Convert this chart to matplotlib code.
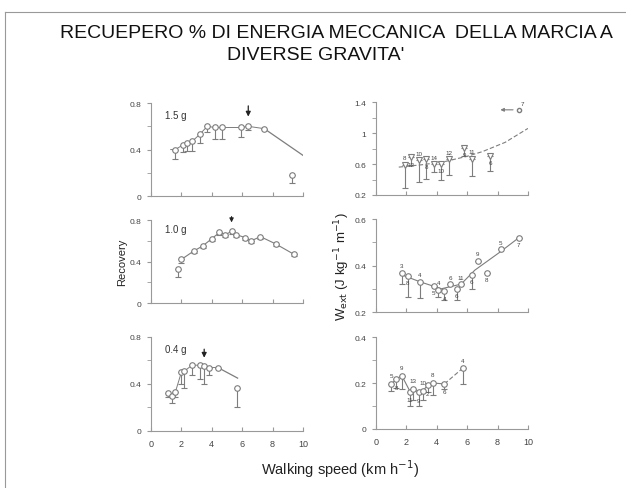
"""Recovery and external work of walking at different gravity levels."""

import numpy as np
import matplotlib.pyplot as plt
from matplotlib.lines import Line2D

plt.rcParams["font.family"] = ["Liberation Sans", "DejaVu Sans"]

TITLE_1 = "RECUEPERO % DI ENERGIA MECCANICA  DELLA MARCIA A"
TITLE_2 = "DIVERSE GRAVITA'"

# recovery, 1.5 g
rec15_x = [1.6, 2.1, 2.4, 2.7, 3.2, 3.7, 4.2, 4.7, 5.9, 6.4, 7.45]
rec15_y = [0.40, 0.44, 0.46, 0.47, 0.53, 0.60, 0.59, 0.59, 0.59, 0.60, 0.58]
rec15_err = [0.08, 0.06, 0.07, 0.08, 0.07, 0.05, 0.10, 0.10, 0.08, 0.03, 0.0]
rec15_fit_x = [7.45, 10.0]
rec15_fit_y = [0.58, 0.35]
rec15_out = (9.3, 0.18, 0.07)
rec15_opt = 6.4

# recovery, 1.0 g
rec10_x = [1.8, 2.0, 2.8, 3.4, 4.0, 4.5, 4.9, 5.3, 5.6, 6.2, 6.6, 7.2, 8.2, 9.4]
rec10_y = [0.33, 0.42, 0.50, 0.55, 0.62, 0.68, 0.66, 0.69, 0.66, 0.63, 0.60, 0.64, 0.57, 0.47]
rec10_err = [0.08, 0.03, 0.02, 0.02, 0.02, 0.02, 0.02, 0.02, 0.02, 0.02, 0.02, 0.02, 0.02, 0.02]
rec10_opt = 5.3

# recovery, 0.4 g
rec04_x = [1.1, 1.4, 1.6, 2.0, 2.2, 2.7, 3.2, 3.5, 3.8, 4.4]
rec04_y = [0.32, 0.30, 0.33, 0.50, 0.51, 0.56, 0.56, 0.55, 0.54, 0.54]
rec04_err = [0.03, 0.06, 0.04, 0.10, 0.14, 0.08, 0.12, 0.15, 0.06, 0.0]
rec04_fit_x = [4.4, 5.7]
rec04_fit_y = [0.54, 0.45]
rec04_out = (5.65, 0.37, 0.17)
rec04_opt = 3.5

# W_ext, 1.5 g
w15_x = [1.9, 2.3, 2.8, 3.3, 3.8, 4.3, 4.8, 5.8, 6.3, 7.5]
w15_y = [0.59, 0.69, 0.65, 0.66, 0.60, 0.60, 0.66, 0.81, 0.67, 0.71]
w15_err = [0.30, 0.10, 0.28, 0.25, 0.10, 0.20, 0.20, 0.10, 0.22, 0.20]
w15_n = ["8", "12", "10", "8", "14", "10", "12", "9", "11", "6"]
w15_fit_x = [1.5, 3.0, 4.5, 6.0, 7.0, 8.5, 10.0]
w15_fit_y = [0.56, 0.59, 0.63, 0.70, 0.76, 0.88, 1.06]
w15_off = (9.4, 1.30, "7")

# W_ext, 1.0 g
w10_x = [1.7, 2.1, 2.9, 3.8, 4.1, 4.5, 4.9, 5.3, 5.6, 6.3, 6.7, 7.3, 8.2, 9.4]
w10_y = [0.37, 0.355, 0.33, 0.313, 0.295, 0.29, 0.32, 0.30, 0.32, 0.36, 0.42, 0.37, 0.47, 0.52]
w10_err = [0.05, 0.09, 0.07, 0.0, 0.03, 0.04, 0.0, 0.05, 0.0, 0.06, 0.0, 0.0, 0.0, 0.0]
w10_n = ["3", "8", "4", "5", "4", "4", "6", "6", "11", "6", "9", "8", "5", "7"]
w10_fit_x = [1.7, 2.9, 4.3, 5.6, 6.5, 8.2, 9.4]
w10_fit_y = [0.36, 0.33, 0.30, 0.32, 0.38, 0.46, 0.52]

# W_ext, 0.4 g
w04_x = [1.0, 1.35, 1.7, 2.25, 2.45, 2.8, 3.1, 3.4, 3.75, 4.5, 5.7]
w04_y = [0.196, 0.217, 0.232, 0.162, 0.174, 0.16, 0.167, 0.19, 0.20, 0.196, 0.264]
w04_err = [0.03, 0.04, 0.06, 0.06, 0.05, 0.06, 0.04, 0.03, 0.05, 0.02, 0.07]
w04_n = ["5", "8", "9", "11", "13", "9", "10", "2", "8", "6", "4"]

MARK = "#7d7d7d"
INK = "#444444"

fig = plt.figure(figsize=(6.26, 4.89), dpi=100)
fig.add_artist(Line2D([0.008, 1.0], [0.973, 0.973], color="#999999", lw=0.8))
fig.add_artist(Line2D([0.008, 0.008], [0.0, 0.973], color="#999999", lw=0.8))
fig.text(0.538, 0.932, TITLE_1, ha="center", va="center", fontsize=14,
         color="#111111")
fig.text(0.505, 0.886, TITLE_2, ha="center", va="center", fontsize=14,
         color="#111111")


def style(ax, ylim, major, minor, xlabels=False):
    ax.set_xlim(0, 10)
    ax.set_ylim(*ylim)
    for s in ("top", "right"):
        ax.spines[s].set_visible(False)
    for s in ("left", "bottom"):
        ax.spines[s].set_color("#999999")
        ax.spines[s].set_linewidth(0.8)
    ax.set_yticks(major)
    ax.set_yticklabels([f"{v:g}" for v in major])
    ax.set_yticks(minor, minor=True)
    ax.set_xticks(range(0, 11, 2))
    if not xlabels:
        ax.set_xticklabels([])
    ax.tick_params(axis="y", which="both", direction="out", length=3,
                   color="#999999", labelsize=6, labelcolor=INK, pad=4)
    ax.tick_params(axis="x", direction="in", length=3, color="#999999",
                   labelsize=6.5, labelcolor=INK, pad=6)
    ax.patch.set_alpha(0)


def points(ax, x, y, err, marker="o"):
    ax.errorbar(x, y, yerr=[err, np.zeros(len(err))], fmt=marker, ms=4,
                mfc="white", mec=MARK, mew=0.8, ecolor=MARK, elinewidth=0.8,
                capsize=2, capthick=0.8, zorder=3)


def numbers(ax, x, y, n, dy):
    for i, (xi, yi, t) in enumerate(zip(x, y, n)):
        d = dy if i % 2 == 0 else -dy
        ax.text(xi, yi + d, t, fontsize=4.5, color=INK, ha="center",
                va="center", zorder=4)


# left column: recovery
ax = fig.add_axes([0.2412, 0.5971, 0.2428, 0.190])
style(ax, (0, 0.8), [0, 0.4, 0.8], [0.2, 0.6])
ax.plot([1.3] + rec15_x, [0.40] + rec15_y, color=MARK, lw=0.7)
ax.plot(rec15_fit_x, rec15_fit_y, color=MARK, lw=0.9)
points(ax, rec15_x, rec15_y, rec15_err)
points(ax, [rec15_out[0]], [rec15_out[1]], [rec15_out[2]])
ax.annotate("", xy=(rec15_opt, 0.66), xytext=(rec15_opt, 0.80),
            arrowprops=dict(arrowstyle="-|>", color="#222222", lw=0.9,
                            mutation_scale=7), annotation_clip=False)
ax.text(0.9, 0.70, "1.5 g", fontsize=7, color="#333333", va="center")

ax = fig.add_axes([0.2412, 0.3783, 0.2428, 0.1697])
style(ax, (0, 0.8), [0, 0.4, 0.8], [0.2, 0.6])
ax.plot(rec10_x[1:], rec10_y[1:], color=MARK, lw=0.8)
points(ax, rec10_x, rec10_y, rec10_err)
ax.annotate("", xy=(rec10_opt, 0.75), xytext=(rec10_opt, 0.86),
            arrowprops=dict(arrowstyle="-|>", color="#222222", lw=0.8,
                            mutation_scale=6), annotation_clip=False)
ax.text(0.9, 0.71, "1.0 g", fontsize=7, color="#333333", va="center")
ax.set_ylabel("Recovery", fontsize=8, color="#222222", labelpad=2)

ax = fig.add_axes([0.2412, 0.1166, 0.2428, 0.1922])
style(ax, (0, 0.8), [0, 0.4, 0.8], [0.2, 0.6], xlabels=True)
ax.plot(rec04_x, rec04_y, color=MARK, lw=0.7)
ax.plot(rec04_fit_x, rec04_fit_y, color=MARK, lw=0.9)
points(ax, rec04_x, rec04_y, rec04_err)
points(ax, [rec04_out[0]], [rec04_out[1]], [rec04_out[2]])
ax.annotate("", xy=(rec04_opt, 0.60), xytext=(rec04_opt, 0.72),
            arrowprops=dict(arrowstyle="-|>", color="#222222", lw=0.9,
                            mutation_scale=7), annotation_clip=False)
ax.text(0.9, 0.70, "0.4 g", fontsize=7, color="#333333", va="center")

# right column: external work
ax = fig.add_axes([0.6006, 0.5992, 0.2428, 0.190])
style(ax, (0.2, 1.4), [0.2, 0.6, 1.0, 1.4], [0.4, 0.8, 1.2])
ax.set_yticklabels(["0.2", "0.6", "1", "1.4"])
ax.plot(w15_fit_x, w15_fit_y, color=MARK, lw=0.8, ls=(0, (4, 2)))
points(ax, w15_x, w15_y, w15_err, marker="v")
numbers(ax, w15_x, w15_y, w15_n, 0.09)
ax.plot([w15_off[0]], [w15_off[1]], "o", ms=3, mfc="white", mec=MARK)
ax.annotate("", xy=(8.0, w15_off[1]), xytext=(w15_off[0] - 0.2, w15_off[1]),
            arrowprops=dict(arrowstyle="-|>", color=MARK, lw=0.8,
                            mutation_scale=5))
ax.text(w15_off[0] + 0.1, w15_off[1] + 0.06, w15_off[2], fontsize=4.5,
        color=INK)

ax = fig.add_axes([0.6006, 0.3599, 0.2428, 0.190])
style(ax, (0.2, 0.6), [0.2, 0.4, 0.6], [0.3, 0.5])
ax.plot(w10_fit_x, w10_fit_y, color=MARK, lw=0.8)
points(ax, w10_x, w10_y, w10_err)
numbers(ax, w10_x, w10_y, w10_n, 0.03)
ax.set_ylabel(r"W$_{\rm ext}$ (J kg$^{-1}$ m$^{-1}$)", fontsize=9.5,
              color="#222222", labelpad=2)

ax = fig.add_axes([0.6006, 0.1207, 0.2428, 0.188])
style(ax, (0, 0.4), [0, 0.2, 0.4], [0.1, 0.3], xlabels=True)
ax.plot(w04_x[:-1], w04_y[:-1], color=MARK, lw=0.8)
ax.plot(w04_x[-2:], w04_y[-2:], color=MARK, lw=0.8, ls=(0, (4, 2)))
points(ax, w04_x, w04_y, w04_err)
numbers(ax, w04_x, w04_y, w04_n, 0.035)

fig.text(0.543, 0.041, r"Walking speed (km h$^{-1}$)", ha="center",
         va="center", fontsize=10.5, color="#222222")

fig.savefig("out.png", dpi=100, facecolor="white")
